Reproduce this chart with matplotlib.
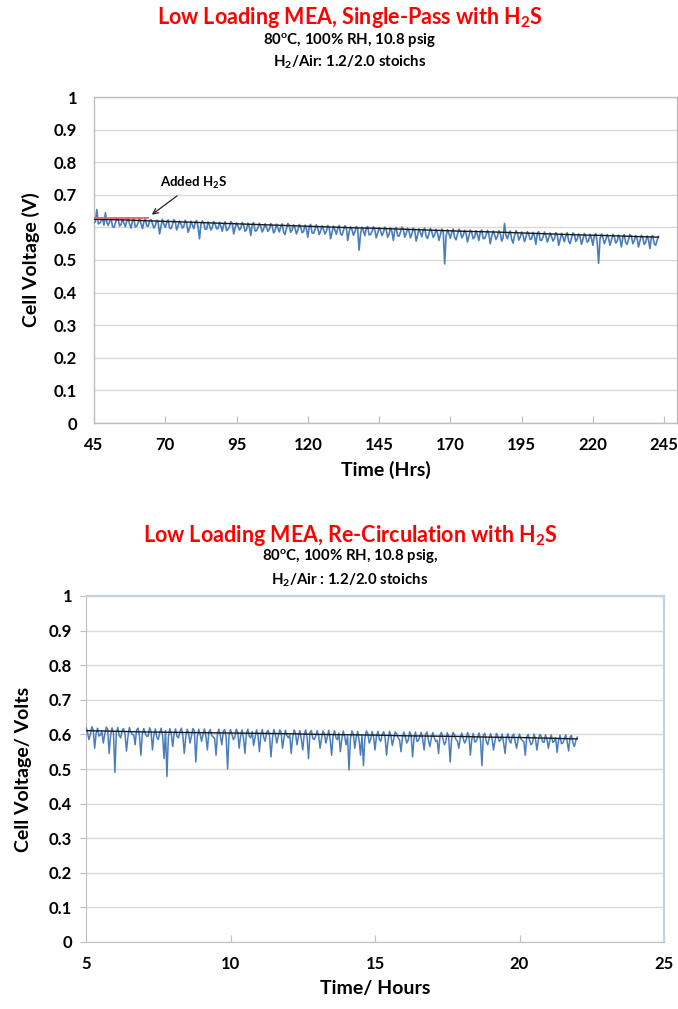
import matplotlib
matplotlib.use("Agg")
import matplotlib.pyplot as plt
import numpy as np

plt.rcParams['font.family'] = ['Lato', 'DejaVu Sans']
plt.rcParams['font.weight'] = 'bold'
plt.rcParams['mathtext.fontset'] = 'custom'
plt.rcParams['mathtext.rm'] = 'Lato:bold'
plt.rcParams['mathtext.it'] = 'Lato:bold'
plt.rcParams['mathtext.bf'] = 'Lato:bold'

# ---------------- data: top chart (single pass) ----------------
# readings on the whole hour (45, 46, ... 243)
top_time_start = 45
top_time_step = 1
top_voltage = [
    0.615, 0.655, 0.612, 0.628, 0.645, 0.606, 0.626, 0.600, 0.627, 0.604,
    0.626, 0.602, 0.628, 0.598, 0.625, 0.604, 0.627, 0.596, 0.626, 0.603,
    0.624, 0.598, 0.622, 0.580, 0.625, 0.600, 0.623, 0.596, 0.624, 0.592,
    0.620, 0.598, 0.622, 0.585, 0.619, 0.596, 0.621, 0.565, 0.620, 0.594,
    0.617, 0.592, 0.618, 0.596, 0.616, 0.588, 0.617, 0.594, 0.618, 0.580,
    0.614, 0.592, 0.615, 0.588, 0.613, 0.575, 0.615, 0.590, 0.613, 0.586,
    0.611, 0.588, 0.612, 0.583, 0.610, 0.586, 0.611, 0.578, 0.612, 0.585,
    0.608, 0.580, 0.609, 0.584, 0.607, 0.570, 0.609, 0.582, 0.608, 0.578,
    0.605, 0.580, 0.606, 0.565, 0.604, 0.579, 0.606, 0.576, 0.605, 0.560,
    0.602, 0.576, 0.603, 0.530, 0.601, 0.575, 0.603, 0.578, 0.602, 0.568,
    0.600, 0.575, 0.601, 0.570, 0.599, 0.560, 0.600, 0.573, 0.601, 0.570,
    0.597, 0.568, 0.598, 0.558, 0.596, 0.571, 0.598, 0.566, 0.597, 0.569,
    0.594, 0.560, 0.595, 0.488, 0.593, 0.567, 0.595, 0.562, 0.594, 0.568,
    0.591, 0.555, 0.592, 0.565, 0.590, 0.560, 0.592, 0.566, 0.591, 0.550,
    0.589, 0.563, 0.590, 0.558, 0.612, 0.565, 0.589, 0.552, 0.590, 0.561,
    0.586, 0.556, 0.587, 0.563, 0.585, 0.548, 0.587, 0.560, 0.586, 0.555,
    0.583, 0.558, 0.584, 0.545, 0.582, 0.556, 0.584, 0.550, 0.583, 0.557,
    0.580, 0.548, 0.581, 0.555, 0.579, 0.545, 0.581, 0.490, 0.580, 0.550,
    0.578, 0.545, 0.579, 0.552, 0.577, 0.540, 0.578, 0.548, 0.578, 0.550,
    0.575, 0.540, 0.576, 0.548, 0.574, 0.535, 0.575, 0.545, 0.572,
]
# readings on the half hour (45.5, 46.5, ... 242.5)
top_voltage_half = [
    0.617, 0.611, 0.621, 0.607, 0.615, 0.619, 0.603, 0.613, 0.623, 0.609,
    0.613, 0.619, 0.609, 0.621, 0.601, 0.615, 0.611, 0.617, 0.605, 0.620,
    0.612, 0.606, 0.616, 0.602, 0.610, 0.614, 0.598, 0.608, 0.618, 0.604,
    0.611, 0.603, 0.613, 0.597, 0.607, 0.615, 0.601, 0.609, 0.614, 0.595,
    0.606, 0.600, 0.610, 0.596, 0.604, 0.608, 0.590, 0.602, 0.612, 0.598,
    0.605, 0.597, 0.607, 0.593, 0.601, 0.609, 0.589, 0.599, 0.603, 0.595,
    0.600, 0.594, 0.604, 0.590, 0.598, 0.602, 0.586, 0.596, 0.606, 0.592,
    0.599, 0.591, 0.601, 0.587, 0.595, 0.603, 0.583, 0.593, 0.597, 0.589,
    0.594, 0.588, 0.598, 0.584, 0.592, 0.596, 0.580, 0.590, 0.600, 0.586,
    0.593, 0.585, 0.595, 0.581, 0.589, 0.597, 0.577, 0.587, 0.591, 0.583,
    0.589, 0.583, 0.593, 0.579, 0.587, 0.591, 0.575, 0.585, 0.595, 0.581,
    0.588, 0.580, 0.590, 0.576, 0.584, 0.592, 0.572, 0.582, 0.586, 0.578,
    0.583, 0.577, 0.587, 0.573, 0.581, 0.585, 0.569, 0.579, 0.589, 0.575,
    0.582, 0.574, 0.584, 0.570, 0.578, 0.586, 0.566, 0.576, 0.580, 0.572,
    0.578, 0.572, 0.582, 0.568, 0.576, 0.580, 0.564, 0.574, 0.584, 0.570,
    0.577, 0.569, 0.579, 0.565, 0.573, 0.581, 0.561, 0.571, 0.575, 0.567,
    0.572, 0.566, 0.576, 0.562, 0.570, 0.574, 0.558, 0.568, 0.578, 0.564,
    0.571, 0.563, 0.573, 0.559, 0.567, 0.575, 0.555, 0.565, 0.569, 0.561,
    0.567, 0.561, 0.571, 0.557, 0.565, 0.569, 0.553, 0.563, 0.573, 0.559,
    0.566, 0.558, 0.568, 0.554, 0.562, 0.570, 0.550, 0.560,
]
top_avg_time = [45, 55, 65, 75, 85, 95, 105, 115, 125, 135, 145, 155, 165,
                175, 185, 195, 205, 215, 225, 235, 243]
top_avg_voltage = [0.625, 0.623, 0.620, 0.617, 0.614, 0.611, 0.608, 0.605,
                   0.602, 0.599, 0.597, 0.594, 0.591, 0.588, 0.586, 0.583,
                   0.580, 0.577, 0.575, 0.572, 0.570]
ref_time = [45, 64]
ref_voltage = [0.628, 0.628]

top_xticks = [45, 70, 95, 120, 145, 170, 195, 220, 245]
yticks = [0, 0.1, 0.2, 0.3, 0.4, 0.5, 0.6, 0.7, 0.8, 0.9, 1]
ytick_labels = ['0', '0.1', '0.2', '0.3', '0.4', '0.5', '0.6', '0.7', '0.8', '0.9', '1']

# ---------------- data: bottom chart (re-circulation) ----------------
# readings every 0.1 h (5.0 ... 22.0)
bot_time_start = 5.0
bot_time_step = 0.1
bot_voltage = [
    0.620, 0.585, 0.622, 0.560, 0.618, 0.598, 0.575, 0.621, 0.545, 0.619,
    0.490, 0.620, 0.590, 0.617, 0.552, 0.620, 0.600, 0.570, 0.618, 0.540,
    0.617, 0.595, 0.619, 0.555, 0.616, 0.585, 0.618, 0.530, 0.478, 0.617,
    0.565, 0.616, 0.590, 0.618, 0.545, 0.615, 0.575, 0.617, 0.520, 0.615,
    0.580, 0.616, 0.555, 0.614, 0.592, 0.540, 0.615, 0.570, 0.614, 0.500,
    0.614, 0.585, 0.615, 0.560, 0.613, 0.545, 0.615, 0.590, 0.568, 0.613,
    0.550, 0.614, 0.580, 0.612, 0.535, 0.614, 0.575, 0.613, 0.560, 0.612,
    0.590, 0.545, 0.613, 0.570, 0.611, 0.555, 0.613, 0.530, 0.611, 0.585,
    0.611, 0.560, 0.610, 0.575, 0.612, 0.540, 0.611, 0.585, 0.550, 0.610,
    0.570, 0.497, 0.610, 0.560, 0.609, 0.540, 0.510, 0.610, 0.575, 0.608,
    0.555, 0.609, 0.580, 0.608, 0.540, 0.609, 0.568, 0.607, 0.590, 0.550,
    0.607, 0.575, 0.608, 0.535, 0.607, 0.582, 0.606, 0.555, 0.607, 0.565,
    0.605, 0.580, 0.545, 0.606, 0.570, 0.605, 0.520, 0.606, 0.585, 0.560,
    0.604, 0.575, 0.605, 0.540, 0.603, 0.580, 0.604, 0.510, 0.603, 0.570,
    0.602, 0.555, 0.603, 0.580, 0.601, 0.545, 0.602, 0.575, 0.601, 0.560,
    0.601, 0.582, 0.540, 0.600, 0.570, 0.601, 0.555, 0.600, 0.578, 0.599,
    0.560, 0.599, 0.580, 0.548, 0.598, 0.575, 0.599, 0.552, 0.597, 0.565,
    0.592,
]
# readings in between (5.05 ... 21.95)
bot_voltage_half = [
    0.607, 0.599, 0.613, 0.603, 0.595, 0.609, 0.601, 0.615, 0.597, 0.605,
    0.605, 0.597, 0.611, 0.601, 0.593, 0.607, 0.599, 0.613, 0.595, 0.603,
    0.603, 0.595, 0.609, 0.599, 0.591, 0.605, 0.597, 0.611, 0.593, 0.601,
    0.602, 0.594, 0.608, 0.598, 0.590, 0.604, 0.596, 0.610, 0.592, 0.600,
    0.601, 0.593, 0.607, 0.597, 0.589, 0.603, 0.595, 0.609, 0.591, 0.599,
    0.600, 0.592, 0.606, 0.596, 0.588, 0.602, 0.594, 0.608, 0.590, 0.598,
    0.599, 0.591, 0.605, 0.595, 0.587, 0.601, 0.593, 0.607, 0.589, 0.597,
    0.598, 0.590, 0.604, 0.594, 0.586, 0.600, 0.592, 0.606, 0.588, 0.596,
    0.596, 0.588, 0.602, 0.592, 0.584, 0.598, 0.590, 0.604, 0.586, 0.594,
    0.595, 0.587, 0.601, 0.591, 0.583, 0.597, 0.589, 0.603, 0.585, 0.593,
    0.594, 0.586, 0.600, 0.590, 0.582, 0.596, 0.588, 0.602, 0.584, 0.592,
    0.592, 0.584, 0.598, 0.588, 0.580, 0.594, 0.586, 0.600, 0.582, 0.590,
    0.591, 0.583, 0.597, 0.587, 0.579, 0.593, 0.585, 0.599, 0.581, 0.589,
    0.590, 0.582, 0.596, 0.586, 0.578, 0.592, 0.584, 0.598, 0.580, 0.588,
    0.588, 0.580, 0.594, 0.584, 0.576, 0.590, 0.582, 0.596, 0.578, 0.586,
    0.587, 0.579, 0.593, 0.583, 0.575, 0.589, 0.581, 0.595, 0.577, 0.585,
    0.585, 0.577, 0.591, 0.581, 0.573, 0.587, 0.579, 0.593, 0.575, 0.583,
]
bot_avg_time = [5, 6, 7, 8, 9, 10, 11, 12, 13, 14, 15, 16, 17, 18, 19, 20, 21, 22]
bot_avg_voltage = [0.611, 0.609, 0.607, 0.606, 0.605, 0.604, 0.603, 0.602,
                   0.600, 0.599, 0.598, 0.596, 0.595, 0.594, 0.592, 0.591,
                   0.589, 0.587]
bot_xticks = [5, 10, 15, 20, 25]

BLUE = '#4a7ebb'
GRID = '#d9d9d9'
AXC = '#bfbfbf'


def interleave(start, step, main, half):
    t_main = start + step * np.arange(len(main))
    t_half = t_main[:len(half)] + step / 2.0
    t = np.empty(len(main) + len(half))
    v = np.empty(len(main) + len(half))
    t[0::2] = t_main
    v[0::2] = main
    t[1::2] = t_half
    v[1::2] = half
    return t, v


top_t, top_v = interleave(top_time_start, top_time_step, top_voltage, top_voltage_half)
bot_t, bot_v = interleave(bot_time_start, bot_time_step, bot_voltage, bot_voltage_half)

fig = plt.figure(figsize=(6.78, 10.09), dpi=100)

# ---------------- top chart ----------------
ax1 = fig.add_axes([94/678, 1-423/1009, 583/678, 326/1009])
ax1.plot(top_t, top_v, color=BLUE, lw=1.2, zorder=3)
ax1.plot(top_avg_time, top_avg_voltage, color='#1a1a1a', lw=1.0, zorder=4)
ax1.plot(ref_time, ref_voltage, color='#e8606a', lw=1.3, zorder=5)
ax1.set_xlim(45, 249.5)
ax1.set_ylim(0, 1)
ax1.set_xticks(top_xticks)
ax1.set_xticklabels([str(v) for v in top_xticks])
ax1.set_yticks(yticks)
ax1.set_yticklabels(ytick_labels)
ax1.grid(axis='y', color=GRID, lw=1.0)
ax1.set_axisbelow(True)
for s in ax1.spines.values():
    s.set_color(AXC)
    s.set_linewidth(1.0)
ax1.tick_params(axis='x', direction='in', length=5, color=AXC, labelsize=12, pad=10)
ax1.tick_params(axis='y', length=0, labelsize=12, pad=12)
ax1.set_xlabel('Time (Hrs)', fontsize=14, fontweight='bold', labelpad=6)
ax1.set_ylabel('Cell Voltage (V)', fontsize=14, fontweight='bold', labelpad=10)
ax1.annotate('Added H$_\\mathregular{2}$S', xy=(64.5, 0.634), xytext=(80, 0.735),
             ha='center', va='center', fontsize=9.5, fontweight='bold',
             arrowprops=dict(arrowstyle='->', color='#222222', lw=0.9))

fig.text(350/678, 1-18/1009, 'Low Loading MEA, Single-Pass with H$_\\mathregular{2}$S',
         ha='center', va='center', color='#ff0000', fontsize=15.5, fontweight='bold')
fig.text(350/678, 1-41/1009, '80$^\\mathregular{o}$C, 100% RH, 10.8 psig',
         ha='center', va='center', fontsize=10.8, fontweight='bold')
fig.text(350/678, 1-62/1009, 'H$_\\mathregular{2}$/Air: 1.2/2.0 stoichs',
         ha='center', va='center', fontsize=10.8, fontweight='bold')

# ---------------- bottom chart ----------------
ax2 = fig.add_axes([86/678, 1-942/1009, 578/678, 346/1009])
ax2.plot(bot_t, bot_v, color=BLUE, lw=1.1, zorder=3)
ax2.plot(bot_avg_time, bot_avg_voltage, color='#1a1a1a', lw=1.0, zorder=4)
ax2.set_xlim(5, 25)
ax2.set_ylim(0, 1)
ax2.set_xticks(bot_xticks)
ax2.set_xticklabels([str(v) for v in bot_xticks])
ax2.set_yticks(yticks)
ax2.set_yticklabels(ytick_labels)
ax2.grid(axis='y', color=GRID, lw=1.0)
ax2.set_axisbelow(True)
ax2.spines['left'].set_color(AXC)
ax2.spines['bottom'].set_color(AXC)
ax2.spines['top'].set_color('#c5d3df')
ax2.spines['right'].set_color('#c5d3df')
ax2.spines['top'].set_linewidth(1.6)
ax2.spines['right'].set_linewidth(1.6)
ax2.tick_params(axis='x', direction='in', length=5, color=AXC, labelsize=12, pad=10)
ax2.tick_params(axis='y', direction='out', length=4, color=AXC, labelsize=12, pad=6)
ax2.set_xlabel('Time/ Hours', fontsize=14, fontweight='bold', labelpad=6)
ax2.set_ylabel('Cell Voltage/ Volts', fontsize=14, fontweight='bold', labelpad=12)

fig.text(350/678, 1-535/1009, 'Low Loading MEA, Re-Circulation with H$_\\mathregular{2}$S',
         ha='center', va='center', color='#ff0000', fontsize=15.5, fontweight='bold')
fig.text(350/678, 1-557/1009, '80$^\\mathregular{o}$C, 100% RH, 10.8 psig,',
         ha='center', va='center', fontsize=10.8, fontweight='bold')
fig.text(350/678, 1-580/1009, 'H$_\\mathregular{2}$/Air : 1.2/2.0 stoichs',
         ha='center', va='center', fontsize=10.8, fontweight='bold')

fig.savefig('out.png', dpi=100)
